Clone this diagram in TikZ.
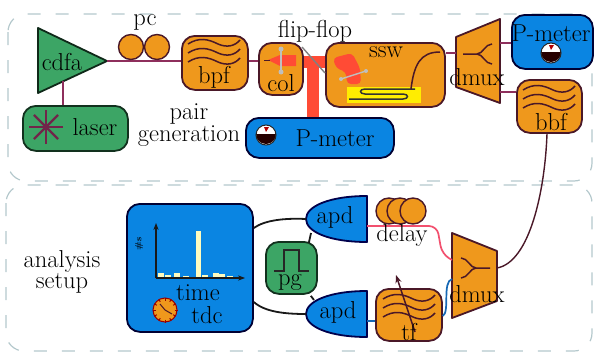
\documentclass[tikz,border=0pt]{standalone}
\usetikzlibrary{arrows.meta}
\definecolor{boxorange}{HTML}{EF981C}
\definecolor{boxblue}{HTML}{0A85E2}
\definecolor{boxgreen}{HTML}{3CA565}
\definecolor{edgedark}{HTML}{4A1828}
\definecolor{fibre}{HTML}{8E2F5C}
\definecolor{beam}{HTML}{FF4B35}
\definecolor{frameline}{HTML}{B4C8CC}
\definecolor{pinkfibre}{HTML}{F2506E}
\definecolor{bluefibre}{HTML}{1668B4}
\begin{document}
\begin{tikzpicture}[
    x=1pt, y=-1pt,
    every node/.style={font=\fontsize{24.5}{18}\selectfont, text=black, align=center, inner sep=0pt},
    frame/.style={draw=frameline, line width=1.2pt, dashed, dash pattern=on 13pt off 15pt, rounded corners=18pt},
    box/.style={draw=edgedark, line width=1.8pt, rounded corners=13pt, anchor=north west},
    orangebox/.style={box, fill=boxorange},
    bluebox/.style={box, fill=boxblue, draw=black!80!blue},
    greenbox/.style={box, fill=boxgreen, draw=black!70!boxgreen},
    shapeline/.style={draw=edgedark, line width=1.8pt, line join=round},
    link/.style={fibre, line width=1.4pt},
    wire/.style={black!90, line width=1.8pt},
    thinwave/.style={edgedark, line width=1.5pt},
    beamline/.style={beam, line width=12pt},
    mirror/.style={black!25, line width=1.4pt},
    waves/.pic={
        \foreach \dy in {-9,0,9}
            \draw[thinwave] (-26,\dy+1) .. controls (-15,\dy-6) and (-6,\dy-4) .. (4,\dy+1) .. controls (13,\dy+5) and (21,\dy+3) .. (26,\dy-3);
    },
    gauge/.pic={
        \fill[white] (0,0) circle (10);
        \fill[black!85!red] (-10,-1) arc[start angle=180, end angle=360, x radius=10, y radius=-10] -- cycle;
        \fill[red!70!black] (0,-3) -- (3,-8) -- (-2,-8) -- cycle;
        \draw[black!85, line width=1pt] (0,0) circle (10);
    },
    splitter/.pic={
        \draw[thinwave] (-14,0) -- (0,0) .. controls (6,0) and (8,-10) .. (15,-10);
        \draw[thinwave] (0,0) .. controls (6,0) and (8,10) .. (15,10);
    }
]
\useasboundingbox (0,0) rectangle (594,356);
% Dashed frames
\draw[frame] (8,14) rectangle (592,181);
\draw[frame] (6,185) rectangle (592,351);

% Pair generation part
\node[orangebox, minimum width=66pt, minimum height=54pt] (bpf) at (181,35) {};
\node[orangebox, minimum width=44pt, minimum height=52pt] (col) at (258,42) {};
\node[orangebox, minimum width=119pt, minimum height=64pt] (ssw) at (325,42) {};
\node[bluebox, minimum width=81pt, minimum height=54pt] (pmetertop) at (511,14) {};
\node[orangebox, minimum width=65pt, minimum height=53pt] (bbf) at (516,79) {};
\node[bluebox, minimum width=148pt, minimum height=40pt] (pmeterlow) at (245,117) {};
\node[greenbox, minimum width=105pt, minimum height=45pt] (laser) at (22,105) {};

% Amplifier and demultiplexers, with the points where fibres meet them
\draw[shapeline, fill=boxgreen, draw=black!75!boxgreen] (38,28) -- (107,61) -- (38,93) -- cycle;
\coordinate (cdfaout) at (107,61);
\coordinate (cdfadown) at (63,81);
\draw[shapeline, fill=boxorange] (456,37) -- (500,19) -- (500,103) -- (456,87) -- cycle;
\coordinate (dmuxain) at (456,53);
\coordinate (dmuxaup) at (500,43);
\coordinate (dmuxalow) at (500,92);
\draw[shapeline, fill=boxorange] (452,233) -- (497,251) -- (497,301) -- (452,318) -- cycle;
\coordinate (dmuxbup) at (452,260);
\coordinate (dmuxblow) at (452,279);
\coordinate (dmuxbout) at (497,268);

% Fibres of the top part
\draw[link] (cdfadown) -- (laser.north -| cdfadown);
\draw[link] (cdfaout) -- (bpf.west |- cdfaout);
\draw[link] (bpf.east |- 0,61) -- (col.west |- 0,61);
\draw[link] (ssw.east |- dmuxain) -- (dmuxain);
\draw[link] (dmuxaup) -- (pmetertop.west |- dmuxaup);
\draw[link] (dmuxalow) -- (bbf.west |- dmuxalow);
\draw[link, edgedark] (bbf.south -| 547,0) .. controls (545,190) and (530,262) .. (dmuxbout);

% Polarisation controller
\node[draw=edgedark, line width=1.4pt, fill=boxorange, circle, minimum size=25pt] (pcl) at (131,47) {};
\node[draw=edgedark, line width=1.4pt, fill=boxorange, circle, minimum size=25pt] (pcr) at (157,47) {};
\draw[link] (pcl.south) -- (pcr.south);

% Beams between col, ssw and the meter
\draw[beamline] (col.east |- 0,62) -- (ssw.west |- 0,62);
\draw[beamline] (313,62) -- (pmeterlow.north -| 313,0);
\draw[mirror, black!50] (302,47) -- (325,73);

% Inside col
\fill[beam] (268,60) -- (280,55) -- (296,55) -- (296,66) -- (280,66) -- cycle;
\draw[mirror] (281,49) -- (281,72);
\fill[black!25] (281,49) circle (2.5) (281,72) circle (2.5);
\draw[edgedark, line width=1pt] (264,60) -- (270,60);

% Inside ssw
\fill[beam, rounded corners=4pt] (333,58) -- (352,53) -- (360,68) -- (361,84) -- (347,84) -- (346,72) -- (336,68) -- cycle;
\draw[mirror] (341,79) -- (366,71);
\fill[black!25] (341,79) circle (2) (366,71) circle (2);
\fill[yellow!95!orange] (347,87) rectangle (421,103);
\draw[thinwave, black!80] (349,99) -- (403,99) .. controls (409,99) and (409,94) .. (403,94) -- (365,94) .. controls (359,94) and (359,89) .. (365,89) -- (415,89);
\draw[thinwave] (411,89) .. controls (414,65) and (420,52) .. (440,52);

% Meters, waves and splitters
\pic at (551,53) {gauge};
\pic at (266,135) {gauge};
\pic at (214,52) {waves};
\pic at (549,98) {waves};
\pic at (477,54) {splitter};
\pic[xscale=-1] at (476,268) {splitter};

% Labels of the top part
\node (cdfalabel) at (62,62) {cdfa};
\node (pclabel) at (145,22) {pc};
\node (bpflabel) at (214,77) {bpf};
\node (collabel) at (281,83) {col};
\node (flipflop) at (315,31) {flip-flop};
\node (sswlabel) at (386,52) {ssw};
\node (dmuxalabel) at (477,77) {dmux};
\node (pmetertoplabel) at (551,33) {P-meter};
\node (bbflabel) at (551,122) {bbf};
\node (laserlabel) at (95,127) {laser};
\node (pairlabel) at (189,125) {pair\\generation};
\node (pmeterlowlabel) at (335,138) {P-meter};

% Laser star
\foreach \a in {0,45,90,135}
    \draw[fibre!80!black, line width=2.4pt] (46,127) +(\a:17) -- +(\a+180:17);

% Analysis part
\node[bluebox, minimum width=126pt, minimum height=128pt] (tdc) at (126,203) {};
\node[greenbox, minimum width=51pt, minimum height=52pt] (pg) at (265,241) {};
\node[orangebox, minimum width=66pt, minimum height=52pt] (tf) at (375,288) {};
\pic at (409,307) {waves};
\foreach \name/\yy in {apda/219,apdb/314} {
    \draw[shapeline, fill=boxblue, draw=black!70!blue] (367,\yy-23) .. controls (330,\yy-23) and (306,\yy-13) .. (306,\yy) .. controls (306,\yy+13) and (330,\yy+23) .. (367,\yy+23) -- cycle;
    \coordinate (\name tip) at (306,\yy);
    \coordinate (\name out) at (367,\yy+7);
}
\foreach \xx in {389,400,413}
    \node[draw=edgedark, line width=1.4pt, fill=boxorange, circle, minimum size=26pt] (delay\xx) at (\xx,211) {};

% Wires of the analysis part
\draw[wire] (tdc.east |- 0,228) .. controls (265,220) and (285,218) .. (apdatip);
\draw[wire] (tdc.east |- 0,302) .. controls (265,312) and (285,314) .. (apdbtip);
\draw[wire] (pg.north east) ++(-9,2) -- (311,233);
\draw[wire] (pg.south east) ++(-7,1) -- (314,300);
\draw[pinkfibre, line width=1.7pt, rounded corners=8pt] (apdaout) -- (437,226) -- (442,254) -- (dmuxbup);
\draw[bluefibre, line width=1.7pt] (apdbout) -- (tf.west |- apdbout);
\draw[bluefibre, line width=1.7pt] (tf.east |- 0,316) .. controls (450,312) and (442,282) .. (dmuxblow);
\draw[-{Stealth[length=8pt]}, thinwave] (415,332) -- (396,275);

% tdc histogram
\coordinate (origin) at (156,278);
\draw[-{Stealth[length=7pt]}, black!90, line width=1.8pt] (origin) -- (156,223);
\draw[-{Stealth[length=7pt]}, black!90, line width=1.8pt] (origin) -- (245,278);
\fill[yellow!25] (195.5,231) rectangle (200.5,277);
\foreach \xx/\hh in {161/4,168/2,177/4,186/1.5,205/2,216/4,222/3,230/1.5}
    \fill[yellow!25] (\xx-3,277) rectangle (\xx+3,277-\hh);
\node[rotate=90, font=\fontsize{9}{9}\selectfont\bfseries] (counts) at (139,244) {\#s};
\node[draw=red!60!black, line width=1pt, fill=boxorange, circle, minimum size=24pt] (clock) at (165,310) {};
\foreach \a in {0,30,...,330}
    \draw[red!60!black, line width=1pt] (clock.center) +(\a:9.5) -- +(\a:12.5);
\draw[edgedark, line width=1pt] (clock.center) -- (160,304) (clock.center) -- (172,314);

% Pulse
\draw[black!85, line width=1.6pt] (274,271) -- (284,271) -- (284,250) -- (299,250) -- (299,271) -- (309,271);

% Labels of the analysis part
\node (timelabel) at (198,293) {time};
\node (tdclabel) at (207,315) {tdc};
\node (pglabel) at (290,283) {pg};
\node (apdalabel) at (335,217) {apd};
\node (apdblabel) at (338,312) {apd};
\node (delaylabel) at (402,235) {delay};
\node (tflabel) at (409,332) {tf};
\node (dmuxblabel) at (477,294) {dmux};
\node (analysis) at (62,272) {analysis\\setup};
\end{tikzpicture}
\end{document}
